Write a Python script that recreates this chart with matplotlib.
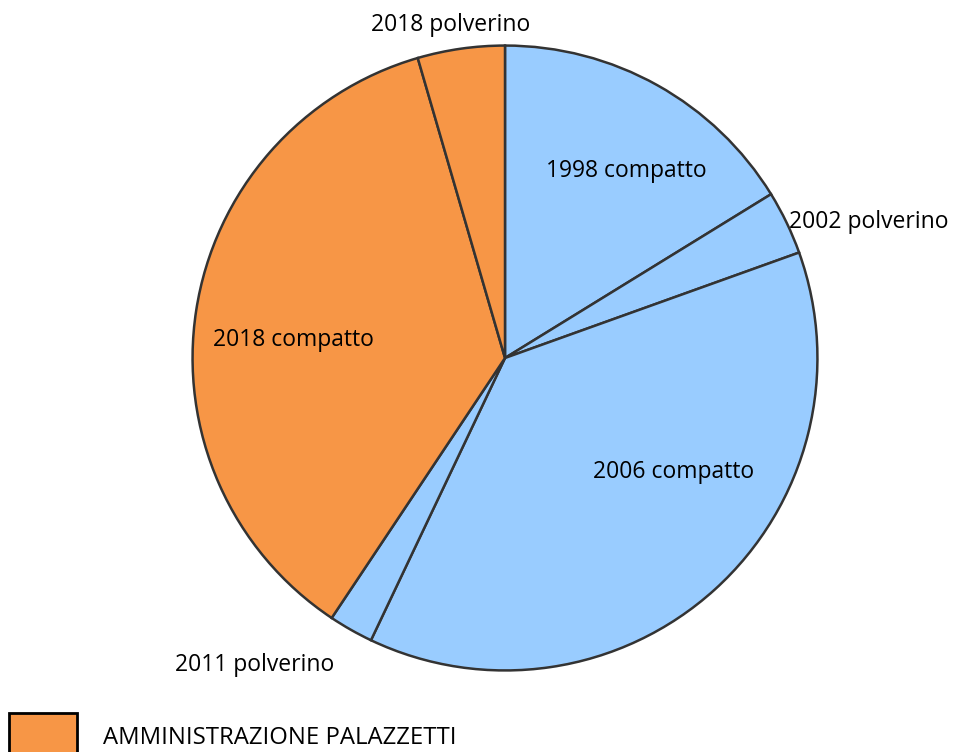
import matplotlib.pyplot as plt
from matplotlib.patches import Rectangle

labels = ['1998 compatto', '2002 polverino', '2006 compatto',
          '2011 polverino', '2018 compatto', '2018 polverino']
shares = [16.2, 3.3, 37.5, 2.3, 36.1, 4.5]
groups = ['blue', 'blue', 'blue', 'blue', 'orange', 'orange']
legend_label = 'AMMINISTRAZIONE PALAZZETTI'

palette = {'blue': '#99CCFF', 'orange': '#F79646'}
# label placement (axes data coords, pie radius = 1) and alignment
label_pos = [(0.389, 0.60, 'center'), (0.91, 0.436, 'left'), (0.541, -0.366, 'center'),
             (-0.80, -0.984, 'center'), (-0.678, 0.057, 'center'), (-0.175, 1.067, 'center')]

plt.rcParams['font.family'] = ['Open Sans', 'DejaVu Sans']

W, H = 956, 752
fig = plt.figure(figsize=(W / 100, H / 100), dpi=100)
cx, cy, r = 505, 358, 314
ax = fig.add_axes([(cx - r) / W, (H - cy - r) / H, 2 * r / W, 2 * r / H])

ax.pie(shares, colors=[palette[g] for g in groups], startangle=90, counterclock=False,
       radius=1, wedgeprops=dict(edgecolor='#333333', linewidth=1.8))
ax.set_xlim(-1.005, 1.005)
ax.set_ylim(-1.005, 1.005)
ax.set_aspect('equal')
ax.axis('off')

for lab, (x, y, ha) in zip(labels, label_pos):
    ax.text(x, y, lab, ha=ha, va='center', fontsize=16.5, color='black', clip_on=False)

# legend (partially cut at the bottom of the picture)
fig.patches.append(Rectangle((9 / W, -0.02), 68 / W, (H - 713) / H + 0.02,
                             transform=fig.transFigure, facecolor=palette['orange'],
                             edgecolor='black', linewidth=2))
fig.text(103 / W, (H - 738) / H, legend_label, ha='left', va='center',
         fontsize=17.2, color='black')

fig.savefig('out.png', dpi=100)
